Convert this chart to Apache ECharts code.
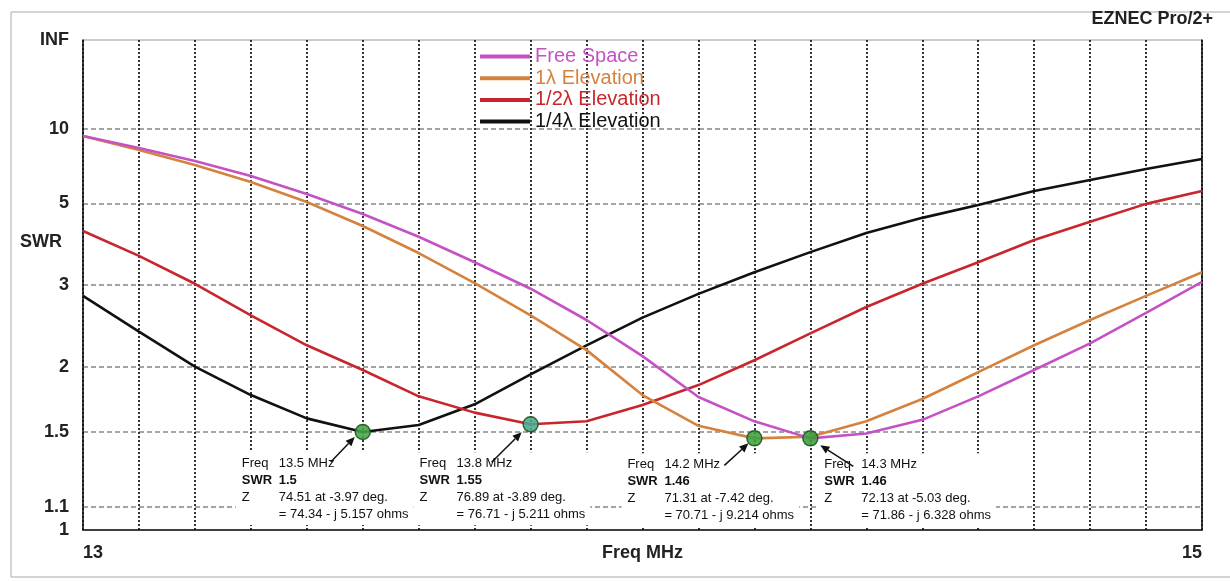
<!DOCTYPE html>
<html><head><meta charset="utf-8">
<script src="https://cdn.jsdelivr.net/npm/echarts@6/dist/echarts.min.js"></script>
<style>html,body{margin:0;padding:0;background:#fff}#c{width:1230px;height:581px}</style>
</head><body><div id="c"></div>
<script>
// ---- data ----
const freqs = [13.0,13.1,13.2,13.3,13.4,13.5,13.6,13.7,13.8,13.9,14.0,14.1,14.2,14.3,14.4,14.5,14.6,14.7,14.8,14.9,15.0];
const freeSpace   = [9.21,8.07,7.10,6.20,5.36,4.63,3.98,3.41,2.94,2.50,2.10,1.745,1.57,1.46,1.49,1.58,1.75,1.97,2.23,2.59,3.05];
const elev1       = [9.21,7.91,6.84,5.90,5.05,4.27,3.60,3.03,2.56,2.16,1.76,1.54,1.46,1.47,1.57,1.73,1.95,2.21,2.50,2.83,3.22];
const elevHalf    = [4.13,3.54,3.02,2.56,2.21,1.97,1.75,1.63,1.55,1.57,1.685,1.84,2.06,2.34,2.67,3.02,3.41,3.90,4.39,4.98,5.49];
const elevQuarter = [2.83,2.36,2.00,1.76,1.59,1.50,1.545,1.69,1.93,2.21,2.53,2.86,3.22,3.62,4.08,4.51,4.94,5.49,6.00,6.60,7.23];
const seriesNames = ['Free Space','1λ Elevation','1/2λ Elevation','1/4λ Elevation'];
const yTickSWR    = [1, 1.1, 1.5, 2, 3, 5, 10, Infinity];
const yTickLabels = ['1','1.1','1.5','2','3','5','10','INF'];
const yGridSWR    = [1.1, 1.5, 2, 3, 5, 10];
const xTickValues = [13, 15];
const xTickLabels = ['13','15'];
const markerFreq  = [13.5, 13.8, 14.2, 14.3];
const markerSWR   = [1.5, 1.55, 1.46, 1.46];
const markerZpolar = ['74.51 at -3.97 deg.','76.89 at -3.89 deg.','71.31 at -7.42 deg.','72.13 at -5.03 deg.'];
const markerZrect  = ['= 74.34 - j 5.157 ohms','= 76.71 - j 5.211 ohms','= 70.71 - j 9.214 ohms','= 71.86 - j 6.328 ohms'];

// EZNEC SWR scale: linear in reflection coefficient
function rho(s){ return isFinite(s) ? (s-1)/(s+1) : 1; }

const colors = ['#c452c4','#d4823e','#c8262c','#111111'];
const seriesData = [freeSpace, elev1, elevHalf, elevQuarter];
const FONT = 'Arial, "Liberation Sans", sans-serif';

// annotation layout (pixel offsets relative to each marker)
const boxOffsets   = [[-127,20],[-117,28],[-133,15],[8,15]];
const arrowOffsets = [[-32,30,-8,5],[-39,38,-9,8],[-30,27,-6,5],[43,28,10,7]];
const markerColors = ['#45a445','#4aa88e','#3fa23f','#3a9c3a'];
const KEYW = 37, LH = 17, FS = 13;

const chart = echarts.init(document.getElementById('c'), null, {renderer:'canvas'});

const lineSeries = seriesNames.map((n,k)=>({
  name:n, type:'line', data: freqs.map((f,i)=>[f, rho(seriesData[k][i])]),
  showSymbol:false, symbol:'none', smooth:false, z: 3 + (3-k),
  lineStyle:{color:colors[k], width:2.6}, itemStyle:{color:colors[k]}, animation:false
}));

const markerSeries = {
  id:'markers', type:'scatter', z:10, animation:false, silent:true,
  symbol:'circle', symbolSize:15,
  data: markerFreq.map((f,i)=>({
    value:[f, rho(markerSWR[i])],
    itemStyle:{color:markerColors[i], borderColor:'#1c551c', borderWidth:1.5, opacity:0.88}
  }))
};

const baseGraphic = [
  {id:'frame', type:'rect', silent:true, z:-1, shape:{x:11, y:12, width:1240, height:565}, style:{fill:'none', stroke:'#aaa', lineWidth:1}},
  {id:'swr', type:'text', silent:true, style:{text:'SWR', x:20, y:242, verticalAlign:'middle', font:'bold 18px ' + FONT, fill:'#222'}}
];

chart.setOption({
  animation:false,
  backgroundColor:'#fff',
  title:{text:'EZNEC Pro/2+', right:17, top:10, padding:0,
    textStyle:{fontSize:18, fontWeight:'bold', fontFamily:FONT, color:'#222'}},
  legend:{
    orient:'vertical', left:475, top:41, itemWidth:50, itemHeight:4, itemGap:0.7,
    icon:'rect', selectedMode:false,
    textStyle:{fontSize:20, fontFamily:FONT, lineHeight:21},
    data: seriesNames.map((n,k)=>({name:n, textStyle:{color:colors[k]}}))
  },
  grid:{left:83, right:28, top:40, bottom:51, show:true, borderColor:'#999', borderWidth:1,
    backgroundColor:'transparent', outerBoundsMode:'none', containLabel:false},
  xAxis:{
    type:'value', min:13, max:15, interval:0.1,
    name:'Freq MHz', nameLocation:'middle', nameGap:14, nameMoveOverlap:false,
    nameTextStyle:{fontSize:18, fontWeight:'bold', fontFamily:FONT, color:'#222', verticalAlign:'top'},
    axisLine:{show:true, onZero:false, lineStyle:{color:'#111', width:1.5}},
    axisTick:{show:false},
    axisLabel:{customValues:xTickValues, margin:14, fontSize:18, fontWeight:'bold', fontFamily:FONT, color:'#222',
      alignMinLabel:'left', alignMaxLabel:'right',
      formatter:(v)=>{ const i = xTickValues.findIndex(t=>Math.abs(t-v)<1e-6); return i>=0 ? xTickLabels[i] : ''; }},
    splitLine:{show:true, lineStyle:{color:'#333', width:2, type:[2,2]}}
  },
  yAxis:[{
    type:'value', min:0, max:1,
    axisLine:{show:true, lineStyle:{color:'#111', width:1.5}},
    axisTick:{show:false, customValues: yGridSWR.map(rho)},
    axisLabel:{customValues: yTickSWR.map(rho), margin:14, fontSize:18, fontWeight:'bold', fontFamily:FONT, color:'#222',
      formatter:(v)=>{ const i = yTickSWR.findIndex(s=>Math.abs(rho(s)-v)<1e-6); return i>=0 ? yTickLabels[i] : ''; }},
    splitLine:{show:true, lineStyle:{color:'#888', width:1.5, type:[5,3]}}
  },{
    type:'value', min:0, max:1, position:'right',
    axisLine:{show:true, lineStyle:{color:'#111', width:1.5}},
    axisTick:{show:false}, axisLabel:{show:false}, splitLine:{show:false}
  }],
  graphic: baseGraphic,
  series: lineSeries.concat([markerSeries])
});

// ---- annotations positioned from the chart's own scales ----
const ctx = document.createElement('canvas').getContext('2d');
function tw(t, bold){ ctx.font = (bold?'bold ':'') + FS + 'px ' + FONT; return ctx.measureText(t).width; }
function arrowEls(x1,y1,x2,y2){
  const dx=x2-x1, dy=y2-y1, L=Math.hypot(dx,dy), ux=dx/L, uy=dy/L;
  const bx=x2-ux*9, by=y2-uy*9;
  return [
    {type:'line', silent:true, z:101, shape:{x1:x1,y1:y1,x2:bx,y2:by}, style:{stroke:'#111', lineWidth:1.5}},
    {type:'polygon', silent:true, z:101, shape:{points:[[x2,y2],[bx-uy*4,by+ux*4],[bx+uy*4,by-ux*4]]}, style:{fill:'#111'}}
  ];
}
const annot = [];
markerFreq.forEach((f,i)=>{
  const p = chart.convertToPixel({gridIndex:0}, [f, rho(markerSWR[i])]);
  const bx = p[0] + boxOffsets[i][0], by = p[1] + boxOffsets[i][1];
  const vals = [f + ' MHz', String(markerSWR[i]), markerZpolar[i], markerZrect[i]];
  const w = 6 + KEYW + Math.max(...vals.map((v,j)=>tw(v, j===1))) + 5;
  const h = 4*LH + 5;
  annot.push({type:'rect', silent:true, z:100, shape:{x:bx, y:by, width:w, height:h}, style:{fill:'#fff'}});
  annot.push({type:'text', silent:true, z:100, x:bx+6, y:by+3, style:{
    text:'{k|Freq}{v|' + vals[0] + '}\n{kb|SWR}{vb|' + vals[1] + '}\n{k|Z}{v|' + vals[2] + '}\n{k| }{v|' + vals[3] + '}',
    verticalAlign:'top', align:'left',
    rich:{
      k:{width:KEYW, fontSize:FS, fontFamily:FONT, fill:'#111', lineHeight:LH},
      kb:{width:KEYW, fontSize:FS, fontFamily:FONT, fontWeight:'bold', fill:'#111', lineHeight:LH},
      v:{fontSize:FS, fontFamily:FONT, fill:'#111', lineHeight:LH},
      vb:{fontSize:FS, fontFamily:FONT, fontWeight:'bold', fill:'#111', lineHeight:LH}
    }}});
  const o = arrowOffsets[i];
  arrowEls(p[0]+o[0], p[1]+o[1], p[0]+o[2], p[1]+o[3]).forEach(e=>annot.push(e));
});
chart.setOption({graphic: baseGraphic.concat(annot)}, {replaceMerge:['graphic']});
</script></body></html>
